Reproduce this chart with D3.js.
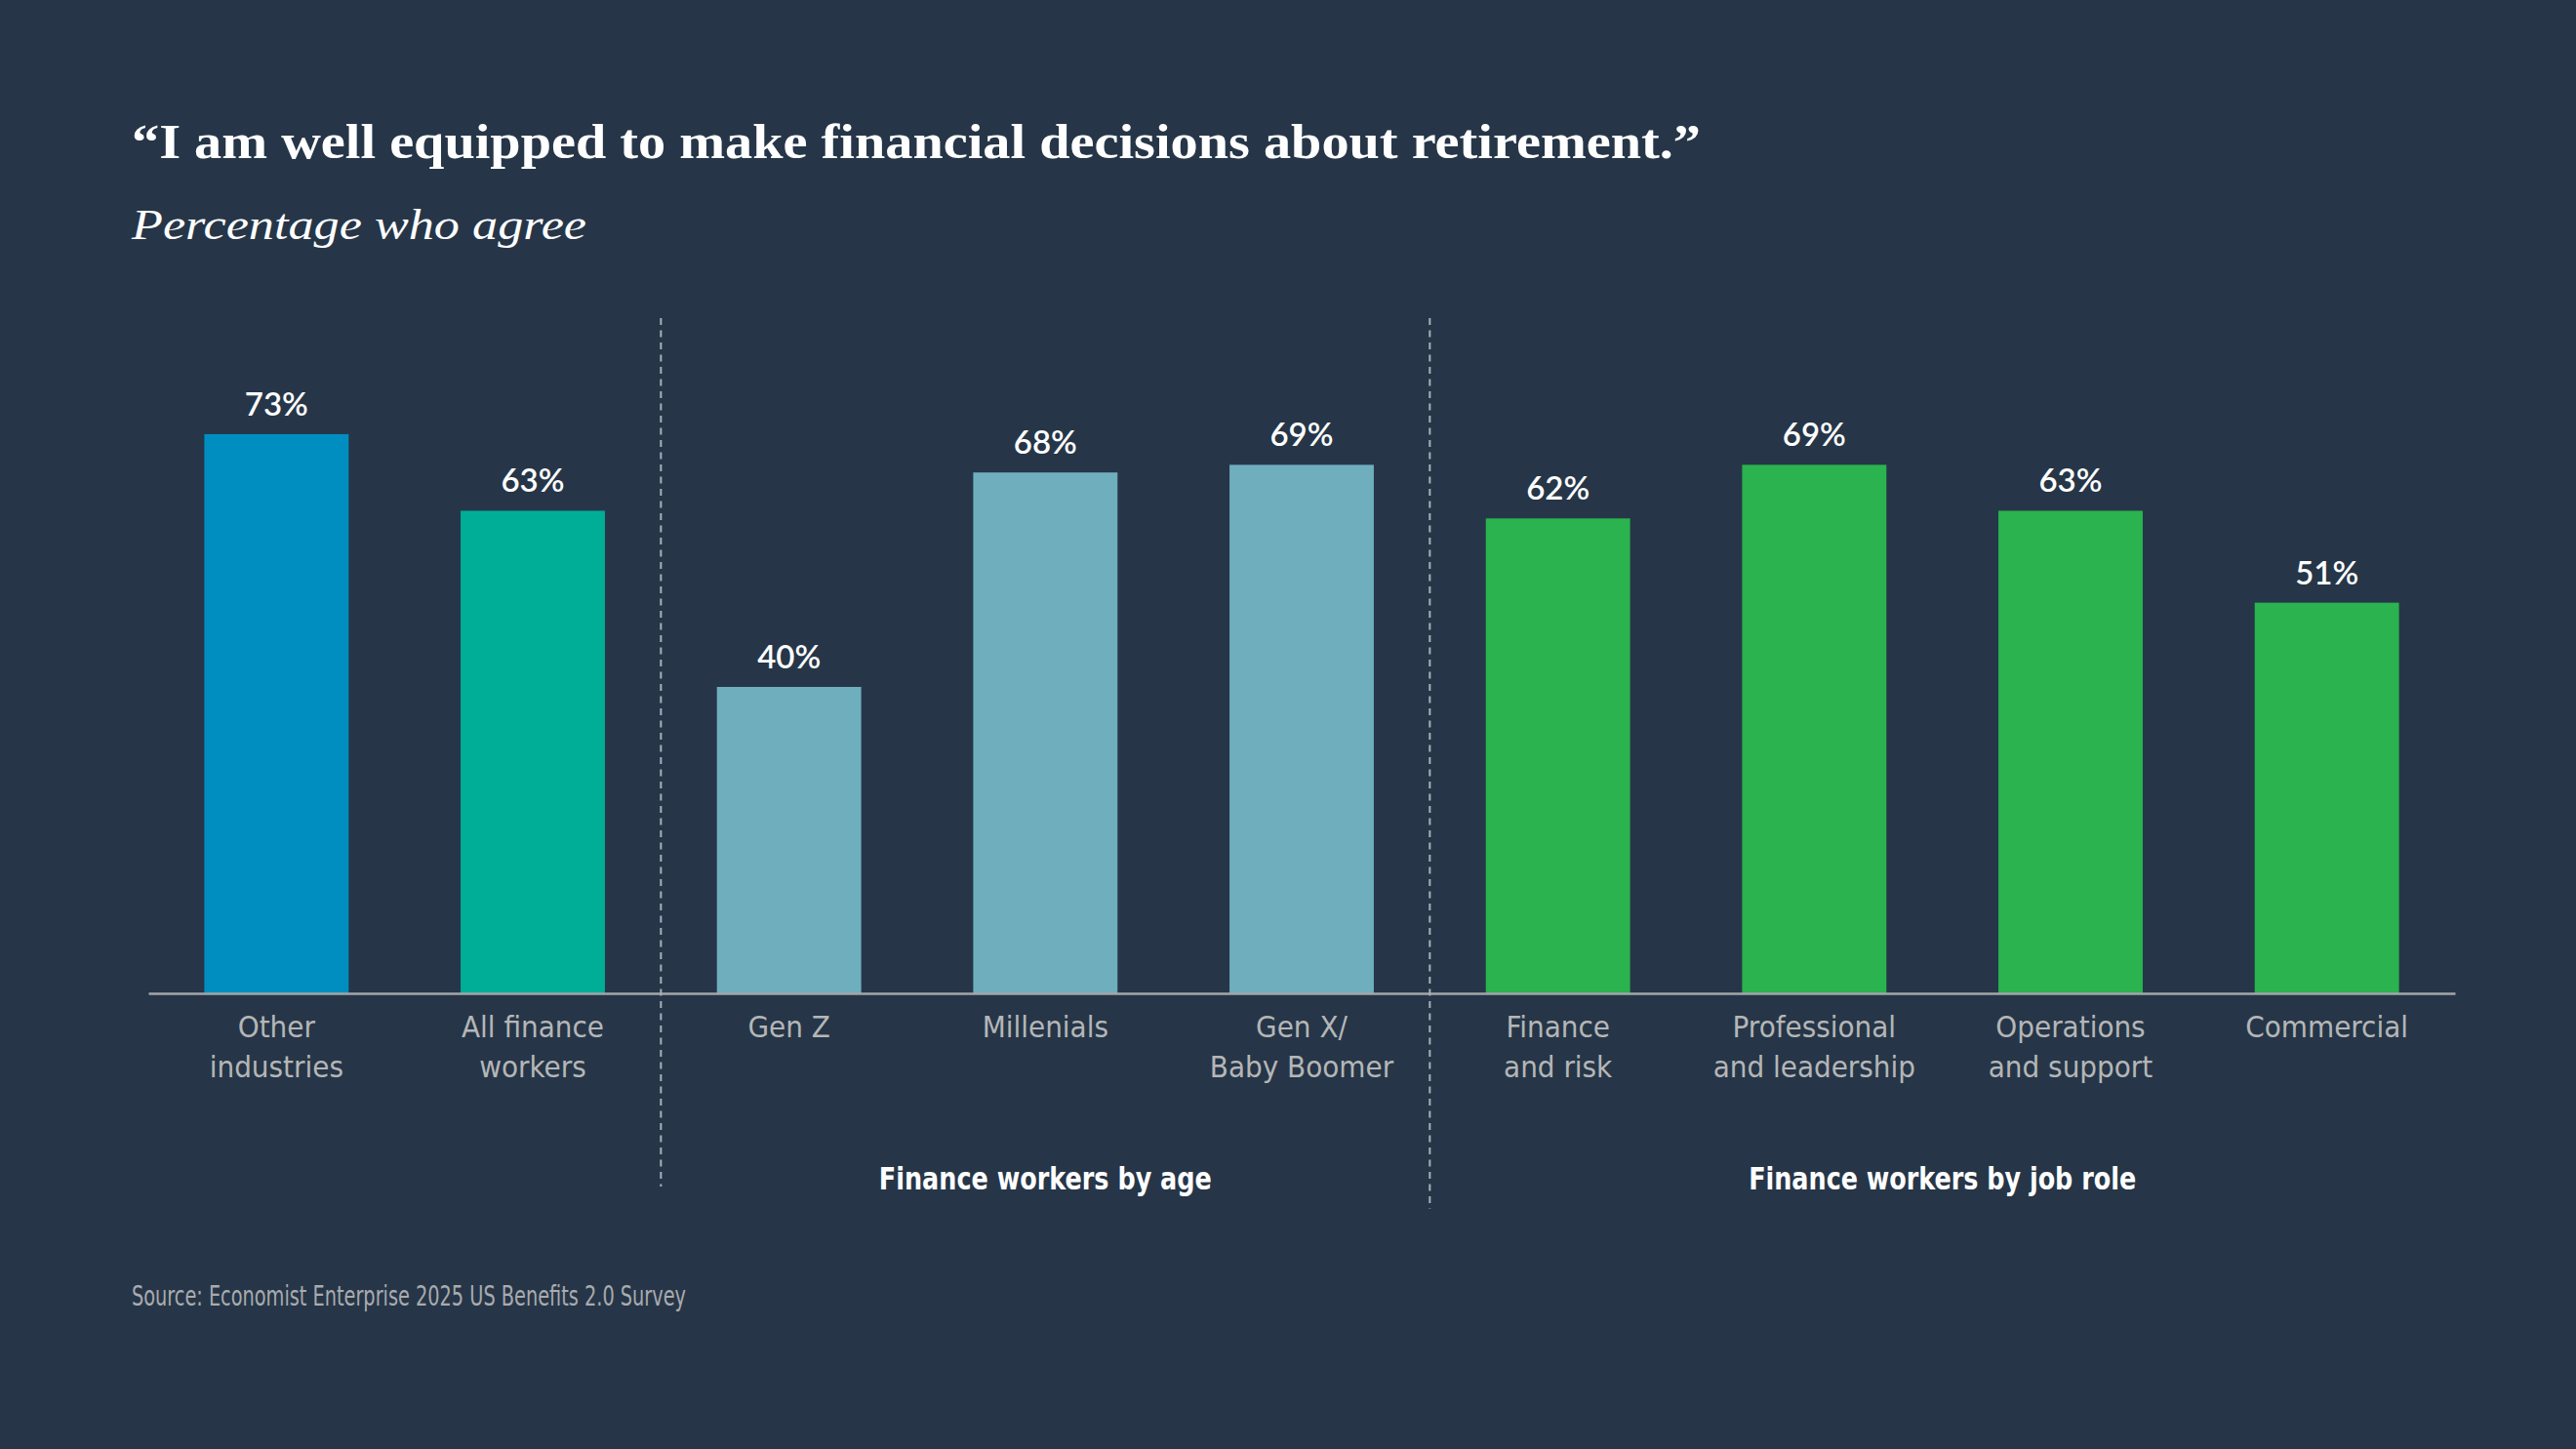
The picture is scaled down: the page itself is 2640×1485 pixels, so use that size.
<!DOCTYPE html>
<html>
<head>
<meta charset="utf-8">
<script src="https://cdn.jsdelivr.net/npm/d3@7"></script>
<style>
  html, body { margin: 0; padding: 0; background: #263648; }
  svg { display: block; }
</style>
</head>
<body>
<svg id="chart"></svg>
<script>
// data
const categoryLabels = [
  ["Other", "industries"],
  ["All finance", "workers"],
  ["Gen Z"],
  ["Millenials"],
  ["Gen X/", "Baby Boomer"],
  ["Finance", "and risk"],
  ["Professional", "and leadership"],
  ["Operations", "and support"],
  ["Commercial"]
];
const values = [73, 63, 40, 68, 69, 62, 69, 63, 51];
const seriesKeys = ["other", "all", "age", "age", "age", "role", "role", "role", "role"];
const groupTitles = { age: "Finance workers by age", role: "Finance workers by job role" };

const titleText = "\u201CI am well equipped to make financial decisions about retirement.\u201D";
const subtitleText = "Percentage who agree";
const sourceText = "Source: Economist Enterprise 2025 US Benefits 2.0 Survey";

const W = 2640, H = 1485;
const narrow = "'Liberation Sans Narrow', 'DejaVu Sans Condensed', 'Arial Narrow', sans-serif";

const svg = d3.select("#chart")
  .attr("width", W).attr("height", H)
  .attr("viewBox", [0, 0, W, H]);

svg.append("rect").attr("width", W).attr("height", H).attr("fill", "#263648");

// squeeze a text to a target width if it runs long
const fitWidth = (sel, target) => {
  const len = sel.node().getComputedTextLength();
  if (Math.abs(len - target) > 4) {
    sel.attr("textLength", target).attr("lengthAdjust", "spacingAndGlyphs");
  }
};

const title = svg.append("text")
  .attr("x", 135).attr("y", 162)
  .attr("fill", "#ffffff")
  .style("font", "bold 50px 'Liberation Serif', 'DejaVu Serif', serif")
  .text(titleText);
fitWidth(title, 1608);

const subtitle = svg.append("text")
  .attr("x", 135).attr("y", 245)
  .attr("fill", "#ffffff")
  .style("font", "italic 44px 'Liberation Serif', 'DejaVu Serif', serif")
  .text(subtitleText);
fitWidth(subtitle, 466);

const x = d3.scaleBand()
  .domain(d3.range(values.length))
  .range([152, 2516])
  .paddingInner(0.437)
  .paddingOuter(0.2185);

const y = d3.scaleLinear().domain([0, 100]).range([1018, 233]);

const color = d3.scaleOrdinal()
  .domain(["other", "all", "age", "role"])
  .range(["#008ec0", "#00ae98", "#6faebd", "#2ab34e"]);

// bars
svg.append("g").selectAll("rect")
  .data(values)
  .join("rect")
  .attr("x", (d, i) => x(i))
  .attr("y", d => y(d))
  .attr("width", x.bandwidth())
  .attr("height", d => y(0) - y(d))
  .attr("fill", (d, i) => color(seriesKeys[i]));

// value labels
svg.append("g").selectAll("text")
  .data(values)
  .join("text")
  .attr("x", (d, i) => x(i) + x.bandwidth() / 2)
  .attr("y", d => y(d) - 19)
  .attr("text-anchor", "middle")
  .attr("fill", "#ffffff")
  .style("font", "600 33px Lato, 'Noto Sans', sans-serif")
  .text(d => d + "%");

// baseline
svg.append("g")
  .attr("transform", `translate(0,${y(0)})`)
  .call(d3.axisBottom(x).tickSize(0).tickSizeOuter(0).tickFormat(""))
  .call(g => g.select(".domain").attr("stroke", "#a3a6a9").attr("stroke-width", 2.5))
  .call(g => g.selectAll(".tick").remove());

// category labels
const cat = svg.append("g").selectAll("text")
  .data(categoryLabels)
  .join("text")
  .attr("text-anchor", "middle")
  .attr("fill", "#b5b6b7")
  .style("font", `31px ${narrow}`);
cat.selectAll("tspan")
  .data((d, i) => d.map(line => ({ line, i })))
  .join("tspan")
  .attr("x", d => x(d.i) + x.bandwidth() / 2)
  .attr("y", (d, j) => y(0) + 45 + j * 41)
  .text(d => d.line);

// group dividers and titles
const groupStarts = seriesKeys
  .map((k, i) => i)
  .filter(i => i > 0 && seriesKeys[i] !== seriesKeys[i - 1] && groupTitles[seriesKeys[i]]);
const dividerEnds = [1216, 1239];

svg.append("g").selectAll("line")
  .data(groupStarts)
  .join("line")
  .attr("x1", i => (x(i - 1) + x.bandwidth() + x(i)) / 2)
  .attr("x2", i => (x(i - 1) + x.bandwidth() + x(i)) / 2)
  .attr("y1", 326)
  .attr("y2", (i, j) => dividerEnds[j])
  .attr("stroke", "#a9b0b7")
  .attr("stroke-width", 2)
  .attr("stroke-dasharray", "7,5.5");

const groupKeys = Object.keys(groupTitles);
const groupWidths = [341, 397];
svg.append("g").selectAll("text")
  .data(groupKeys)
  .join("text")
  .attr("x", k => {
    const idx = seriesKeys.map((s, i) => s === k ? i : -1).filter(i => i >= 0);
    return (x(idx[0]) + x(idx[idx.length - 1]) + x.bandwidth()) / 2;
  })
  .attr("y", 1219)
  .attr("text-anchor", "middle")
  .attr("fill", "#ffffff")
  .style("font", `bold 32px ${narrow}`)
  .text(k => groupTitles[k])
  .each(function (k, j) { fitWidth(d3.select(this), groupWidths[j]); });

const source = svg.append("text")
  .attr("x", 135).attr("y", 1338)
  .attr("fill", "#a9abae")
  .style("font", `29px ${narrow}`)
  .text(sourceText);
fitWidth(source, 568);
</script>
</body>
</html>
